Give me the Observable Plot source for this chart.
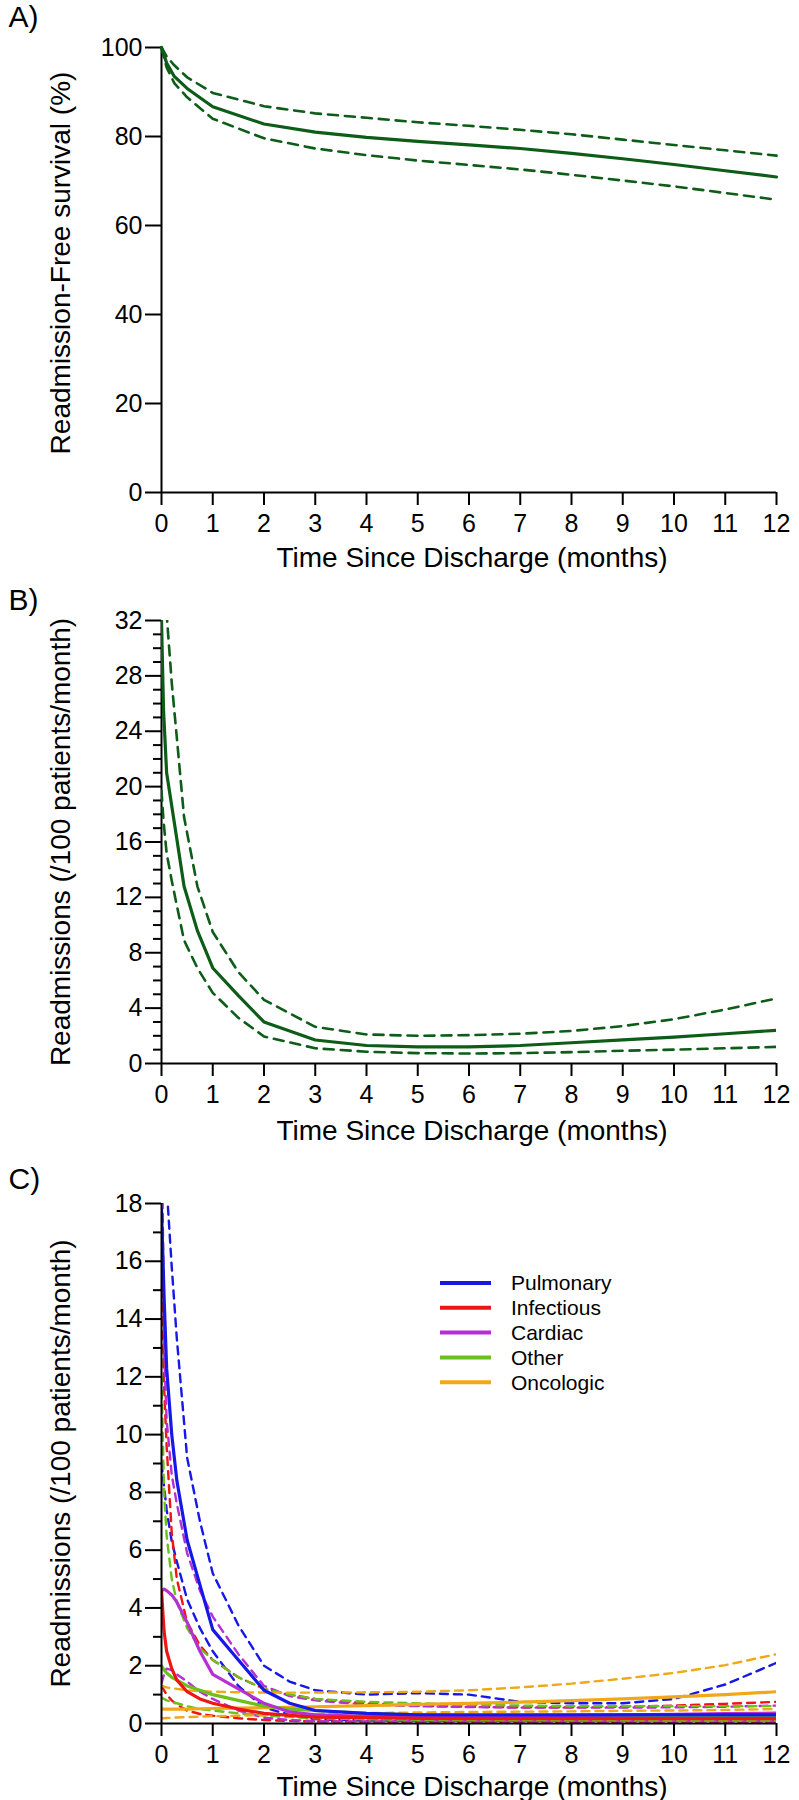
<!DOCTYPE html>
<html>
<head>
<meta charset="utf-8">
<script src="https://cdn.jsdelivr.net/npm/d3@7"></script>
<script src="https://cdn.jsdelivr.net/npm/@observablehq/plot@0.6"></script>
<style>
  body { margin: 0; background: #fff; }
  #chart svg { display: block; }
</style>
</head>
<body>
<div id="chart"></div>
<script>
// ---------------- DATA ----------------
const xTicks = [0, 1, 2, 3, 4, 5, 6, 7, 8, 9, 10, 11, 12];
const xLabel = "Time Since Discharge (months)";

// Panel A: readmission-free survival (%)
const aTicksY = [0, 20, 40, 60, 80, 100];
const aLabelY = "Readmission-Free survival (%)";
const aMonths = [0, 0.1, 0.25, 0.5, 1, 2, 3, 4, 5, 6, 7, 8, 9, 10, 11, 12];
const aSurv   = [100, 96.5, 93.5, 90.8, 86.7, 82.8, 81.0, 79.8, 78.9, 78.1, 77.3, 76.2, 75.0, 73.7, 72.3, 70.9];
const aUpper  = [100, 98.0, 96.0, 93.3, 89.8, 86.8, 85.2, 84.2, 83.2, 82.4, 81.5, 80.5, 79.3, 78.1, 76.9, 75.7];
const aLower  = [100, 95.5, 92.0, 88.8, 84.0, 79.6, 77.3, 75.8, 74.6, 73.6, 72.6, 71.4, 70.1, 68.8, 67.3, 65.8];

// Panel B: readmissions (/100 patients/month)
const bTicksY = [0, 4, 8, 12, 16, 20, 24, 28, 32];
const bMinorY = [1, 2, 3, 5, 6, 7, 9, 10, 11, 13, 14, 15, 17, 18, 19, 21, 22, 23, 25, 26, 27, 29, 30, 31];
const bLabelY = "Readmissions (/100 patients/month)";
const bMonths = [0, 0.04, 0.1, 0.2, 0.3, 0.44, 0.7, 1, 1.5, 2, 3, 4, 5, 6, 7, 8, 9, 10, 11, 12];
const bRate   = [32, 25.5, 21.0, 18.6, 16.2, 12.8, 9.6, 6.9, 4.9, 3.0, 1.7, 1.3, 1.2, 1.2, 1.3, 1.5, 1.7, 1.9, 2.15, 2.4];
const bUpper  = [40, 36.0, 32.5, 27.5, 23.5, 17.8, 12.8, 9.5, 6.6, 4.6, 2.65, 2.1, 2.0, 2.05, 2.15, 2.35, 2.7, 3.2, 3.9, 4.7];
const bLower  = [19.7, 17.5, 15.2, 13.2, 11.4, 8.9, 6.9, 5.1, 3.3, 1.95, 1.1, 0.85, 0.75, 0.72, 0.75, 0.82, 0.92, 1.0, 1.1, 1.2];

// Panel C: readmissions by cause
const cTicksY = [0, 2, 4, 6, 8, 10, 12, 14, 16, 18];
const cMinorY = [1, 3, 5, 7, 9, 11, 13, 15, 17];
const cLabelY = "Readmissions (/100 patients/month)";
const cMonths = [0, 0.05, 0.1, 0.2, 0.3, 0.5, 0.75, 1, 1.5, 2, 2.5, 3, 4, 5, 6, 7, 8, 9, 10, 11, 12];
const causes  = ["Pulmonary", "Infectious", "Cardiac", "Other", "Oncologic"];
const causeColors = ["#1717e8", "#ee1515", "#b52fd2", "#6cc01c", "#f0a818"];

const pulmRate  = [17.8, 14.8, 12.3, 10.0, 8.4, 6.35, 4.8, 3.25, 2.2, 1.15, 0.7, 0.45, 0.35, 0.3, 0.3, 0.3, 0.3, 0.3, 0.3, 0.3, 0.3];
const pulmUpper = [30, 24, 18.6, 15.8, 13.3, 9.2, 7.0, 5.2, 3.4, 2.0, 1.45, 1.15, 1.0, 1.05, 1.0, 0.75, 0.7, 0.7, 0.85, 1.35, 2.1];
const pulmLower = [9.0, 8.2, 7.4, 6.3, 5.6, 4.3, 3.3, 2.5, 1.3, 0.55, 0.3, 0.15, 0.1, 0.1, 0.1, 0.1, 0.1, 0.1, 0.1, 0.1, 0.1];

const infRate   = [4.6, 3.2, 2.5, 1.9, 1.5, 1.1, 0.85, 0.7, 0.5, 0.35, 0.28, 0.22, 0.2, 0.18, 0.17, 0.17, 0.17, 0.17, 0.17, 0.17, 0.17];
const infUpper  = [16, 11.7, 9.6, 6.6, 5.0, 3.5, 2.7, 2.2, 1.6, 1.2, 1.0, 0.85, 0.7, 0.62, 0.58, 0.56, 0.56, 0.58, 0.62, 0.68, 0.75];
const infLower  = [1.3, 1.15, 1.0, 0.8, 0.65, 0.45, 0.33, 0.27, 0.18, 0.12, 0.09, 0.07, 0.06, 0.06, 0.06, 0.06, 0.06, 0.06, 0.06, 0.06, 0.06];

const cardRate  = [4.6, 4.65, 4.6, 4.45, 4.2, 3.5, 2.5, 1.7, 1.2, 0.7, 0.4, 0.3, 0.25, 0.25, 0.25, 0.27, 0.28, 0.3, 0.32, 0.34, 0.36];
const cardUpper = [22, 13, 10.5, 8.6, 7.6, 5.9, 4.6, 3.7, 2.4, 1.3, 0.95, 0.8, 0.65, 0.6, 0.57, 0.55, 0.55, 0.55, 0.56, 0.58, 0.62];
const cardLower = [1.4, 1.7, 1.9, 1.85, 1.7, 1.45, 1.1, 0.85, 0.45, 0.2, 0.12, 0.08, 0.07, 0.07, 0.07, 0.07, 0.07, 0.07, 0.07, 0.07, 0.07];

const othRate   = [2.0, 1.85, 1.75, 1.6, 1.5, 1.3, 1.15, 1.0, 0.8, 0.6, 0.5, 0.45, 0.35, 0.3, 0.27, 0.25, 0.23, 0.22, 0.21, 0.2, 0.2];
const othUpper  = [12, 8, 6.5, 5.0, 4.2, 3.3, 2.6, 2.2, 1.6, 1.2, 1.0, 0.85, 0.75, 0.7, 0.65, 0.62, 0.6, 0.6, 0.6, 0.6, 0.6];
const othLower  = [0.9, 0.85, 0.8, 0.75, 0.7, 0.6, 0.5, 0.45, 0.35, 0.28, 0.22, 0.18, 0.15, 0.13, 0.12, 0.12, 0.11, 0.11, 0.1, 0.1, 0.1];

const oncRate   = [0.5, 0.5, 0.5, 0.5, 0.5, 0.5, 0.51, 0.52, 0.53, 0.55, 0.56, 0.58, 0.62, 0.66, 0.7, 0.74, 0.79, 0.85, 0.92, 1.0, 1.1];
const oncUpper  = [1.3, 1.28, 1.25, 1.22, 1.2, 1.15, 1.12, 1.1, 1.08, 1.07, 1.07, 1.07, 1.08, 1.1, 1.15, 1.25, 1.38, 1.55, 1.75, 2.02, 2.4];
const oncLower  = [0.18, 0.18, 0.19, 0.2, 0.21, 0.22, 0.24, 0.25, 0.27, 0.29, 0.31, 0.33, 0.36, 0.38, 0.4, 0.41, 0.42, 0.44, 0.45, 0.47, 0.5];

const cRates  = [pulmRate, infRate, cardRate, othRate, oncRate];
const cUppers = [pulmUpper, infUpper, cardUpper, othUpper, oncUpper];
const cLowers = [pulmLower, infLower, cardLower, othLower, oncLower];

// ---------------- DRAWING ----------------
const FONT = "'Liberation Sans', Arial, Helvetica, sans-serif";
const GREEN = "#0d5c17";
const W = 799, ML = 161, MR = 23;

function rows(ts, vs) { return ts.map((t, i) => ({t, v: vs[i]})); }

function axisMarks(yTicks, yMinor) {
  const m = [
    Plot.axisX({ticks: xTicks, tickSize: 13, tickPadding: 9, strokeWidth: 2, fontSize: 25, label: null, tickFormat: d => String(d)}),
    Plot.axisY({ticks: yTicks, tickSize: 16, tickPadding: 3, strokeWidth: 2, fontSize: 25, label: null, tickFormat: d => String(d)}),
  ];
  if (yMinor) m.push(Plot.axisY({ticks: yMinor, tickSize: 8, strokeWidth: 2, label: null, tickFormat: () => ""}));
  m.push(Plot.ruleX([0], {stroke: "black", strokeWidth: 2}));
  m.push(Plot.ruleY([0], {stroke: "black", strokeWidth: 2}));
  return m;
}

function textMarks(letter, letterDy, yLabel, yLabelDy, titleDy) {
  return [
    Plot.text([letter], {text: d => d, frameAnchor: "top-left", textAnchor: "start", lineAnchor: "middle", dx: -153, dy: letterDy, fontSize: 30, fill: "black"}),
    Plot.text([yLabel], {text: d => d, frameAnchor: "left", rotate: -90, textAnchor: "middle", lineAnchor: "middle", dx: -100, dy: yLabelDy, fontSize: 28, fill: "black"}),
    Plot.text([xLabel], {text: d => d, frameAnchor: "bottom", textAnchor: "middle", lineAnchor: "middle", dx: 3, dy: titleDy, fontSize: 28, fill: "black"})
  ];
}

const common = {width: W, marginLeft: ML, marginRight: MR, style: {fontFamily: FONT, fontSize: "25px", color: "black", background: "white", overflow: "visible"}};

// Panel A
const plotA = Plot.plot({
  ...common, height: 578, marginTop: 47, marginBottom: 86,
  x: {domain: [0, 12]}, y: {domain: [0, 100]},
  marks: [
    ...axisMarks(aTicksY, null),
    Plot.line(rows(aMonths, aUpper), {x: "t", y: "v", stroke: GREEN, strokeWidth: 2.6, strokeDasharray: "10,7"}),
    Plot.line(rows(aMonths, aLower), {x: "t", y: "v", stroke: GREEN, strokeWidth: 2.6, strokeDasharray: "10,7"}),
    Plot.line(rows(aMonths, aSurv), {x: "t", y: "v", stroke: GREEN, strokeWidth: 3.2}),
    ...textMarks("A)", -30, aLabelY, -7, 66)
  ]
});

// Panel B
const plotB = Plot.plot({
  ...common, height: 577, marginTop: 42, marginBottom: 92,
  x: {domain: [0, 12]}, y: {domain: [0, 32]},
  marks: [
    ...axisMarks(bTicksY, bMinorY),
    Plot.line(rows(bMonths, bUpper), {x: "t", y: "v", stroke: GREEN, strokeWidth: 2.6, strokeDasharray: "10,7", clip: true}),
    Plot.line(rows(bMonths, bLower), {x: "t", y: "v", stroke: GREEN, strokeWidth: 2.6, strokeDasharray: "10,7", clip: true}),
    Plot.line(rows(bMonths, bRate), {x: "t", y: "v", stroke: GREEN, strokeWidth: 3.2, clip: true}),
    ...textMarks("B)", -20, bLabelY, 0, 68)
  ]
});

// Panel C
const dashedC = [];
const solidC = [];
causes.forEach((c, i) => {
  dashedC.push(Plot.line(rows(cMonths, cUppers[i]), {x: "t", y: "v", stroke: causeColors[i], strokeWidth: 2.4, strokeDasharray: "8,6", clip: true}));
  dashedC.push(Plot.line(rows(cMonths, cLowers[i]), {x: "t", y: "v", stroke: causeColors[i], strokeWidth: 2.4, strokeDasharray: "8,6", clip: true}));
});
[4, 3, 2, 0, 1].forEach(i => {
  solidC.push(Plot.line(rows(cMonths, cRates[i]), {x: "t", y: "v", stroke: causeColors[i], strokeWidth: 3.2, clip: true}));
});

const plotC = Plot.plot({
  ...common, height: 645, marginTop: 48, marginBottom: 77,
  x: {domain: [0, 12]}, y: {domain: [0, 18]},
  marks: [
    ...dashedC,
    ...solidC,
    ...axisMarks(cTicksY, cMinorY),
    ...textMarks("C)", -24, cLabelY, 0, 64)
  ]
});

// Legend for panel C (layout only)
const leg = d3.select(plotC).append("g").attr("class", "legend");
const legTop = 128, legStep = 24.8;
causes.forEach((c, i) => {
  const y = legTop + i * legStep;
  leg.append("line").attr("x1", 440).attr("x2", 491).attr("y1", y).attr("y2", y)
     .attr("stroke", causeColors[i]).attr("stroke-width", 4);
  leg.append("text").attr("x", 511).attr("y", y).attr("dy", "0.35em")
     .attr("text-anchor", "start")
     .attr("font-size", 21).attr("font-family", FONT).attr("fill", "black").text(c);
});

const root = document.getElementById("chart");
root.append(plotA, plotB, plotC);
</script>
</body>
</html>
